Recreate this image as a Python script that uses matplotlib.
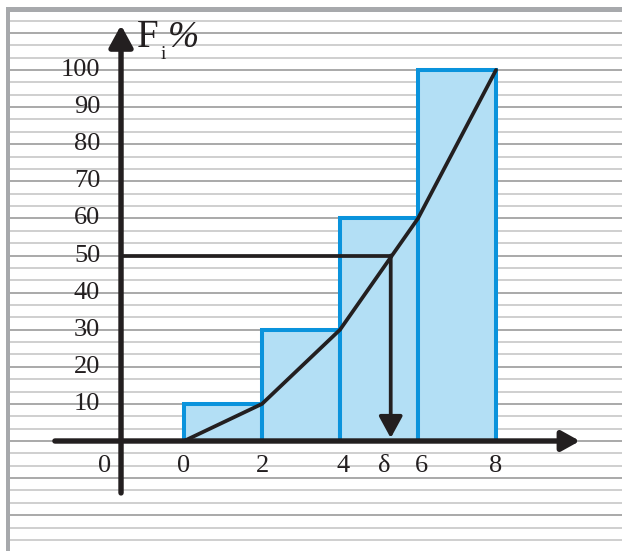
import numpy as np
import matplotlib.pyplot as plt
from matplotlib.patches import Rectangle

# intervals and cumulative frequency (%)
bin_edges = [0, 2, 4, 6, 8]
bar_heights = [10, 30, 60, 100]
cumulative_x = [0, 2, 4, 6, 8]
cumulative_y = [0, 10, 30, 60, 100]
median_level = 50
median_x = 5.3
y_ticks = [10, 20, 30, 40, 50, 60, 70, 80, 90, 100]
x_labels = ['0', '2', '4', '6', '8']

black = '#231f20'
bar_face = '#b3dff5'
bar_edge = '#0a93dc'
serif = 'Liberation Serif'

fig = plt.figure(figsize=(6.22, 5.51), dpi=100)
ax = fig.add_axes([0, 0, 1, 1])
ax.set_xlim(-4.718, 11.23)
ax.set_ylim(-29.65, 118.87)
ax.axis('off')

# notebook ruling
for k in range(-9, 35):
    y = k * 10 / 3
    if k % 3 == 0:
        ax.plot([-4.46, 11.3], [y, y], color='#a9a9a9', lw=1.4, zorder=0)
    else:
        ax.plot([-4.46, 11.3], [y, y], color='#c2c2c2', lw=1.1, zorder=0)

fig.add_artist(Rectangle((6 / 622, 0), 4 / 622, 544 / 551, transform=fig.transFigure,
                         color='#a7a9ac', lw=0))
fig.add_artist(Rectangle((6 / 622, 539 / 551), 616 / 622, 5 / 551, transform=fig.transFigure,
                         color='#a7a9ac', lw=0))

# histogram
ax.bar(bin_edges[:-1], bar_heights, width=np.diff(bin_edges), align='edge',
       facecolor=bar_face, edgecolor=bar_edge, lw=2.9, zorder=2)

# cumulative polygon
ax.plot(cumulative_x, cumulative_y, color=black, lw=2.7, zorder=3, solid_capstyle='round')

# median construction
y_axis_x = -1.615
ax.plot([y_axis_x, median_x], [median_level, median_level], color=black, lw=2.7, zorder=3)
ax.annotate('', xy=(median_x, 0.8), xytext=(median_x, median_level),
            arrowprops=dict(arrowstyle='-|>,head_length=0.55,head_width=0.3', color=black,
                            lw=2.7, mutation_scale=24, shrinkA=0, shrinkB=0), zorder=4)

# axes with arrows
ax.annotate('', xy=(10.15, 0), xytext=(-3.31, 0),
            arrowprops=dict(arrowstyle='-|>,head_length=0.45,head_width=0.25', color=black,
                            lw=3.9, mutation_scale=24, shrinkA=0, shrinkB=0), zorder=5)
ax.annotate('', xy=(y_axis_x, 112.1), xytext=(y_axis_x, -14.0),
            arrowprops=dict(arrowstyle='-|>,head_length=0.55,head_width=0.3', color=black,
                            lw=3.9, mutation_scale=24, shrinkA=0, shrinkB=0), zorder=5)

# tick labels
for v in y_ticks:
    ax.text(-2.15, v, str(v), ha='right', va='center', fontsize=19, family=serif, color=black)
for x, lab in zip(bin_edges, x_labels):
    ax.text(x + (0.08 if x in (4, 6) else 0), -6.7, lab, ha='center', va='center',
            fontsize=19, family=serif, color=black)
ax.text(-2.03, -6.7, '0', ha='center', va='center', fontsize=19, family=serif, color=black)
ax.text(median_x - 0.17, -6.7, 'δ', ha='center', va='center', fontsize=19, family=serif, color=black)

# axis title F_i %
ax.text(-1.2, 106.2, 'F', ha='left', va='baseline', fontsize=28, family=serif, color=black)
ax.text(-0.6, 103.0, 'i', ha='left', va='baseline', fontsize=14, family=serif, color=black)
ax.text(-0.42, 106.2, '%', ha='left', va='baseline', fontsize=27, family=serif,
        style='italic', color=black)

fig.savefig('out.png', dpi=100)
